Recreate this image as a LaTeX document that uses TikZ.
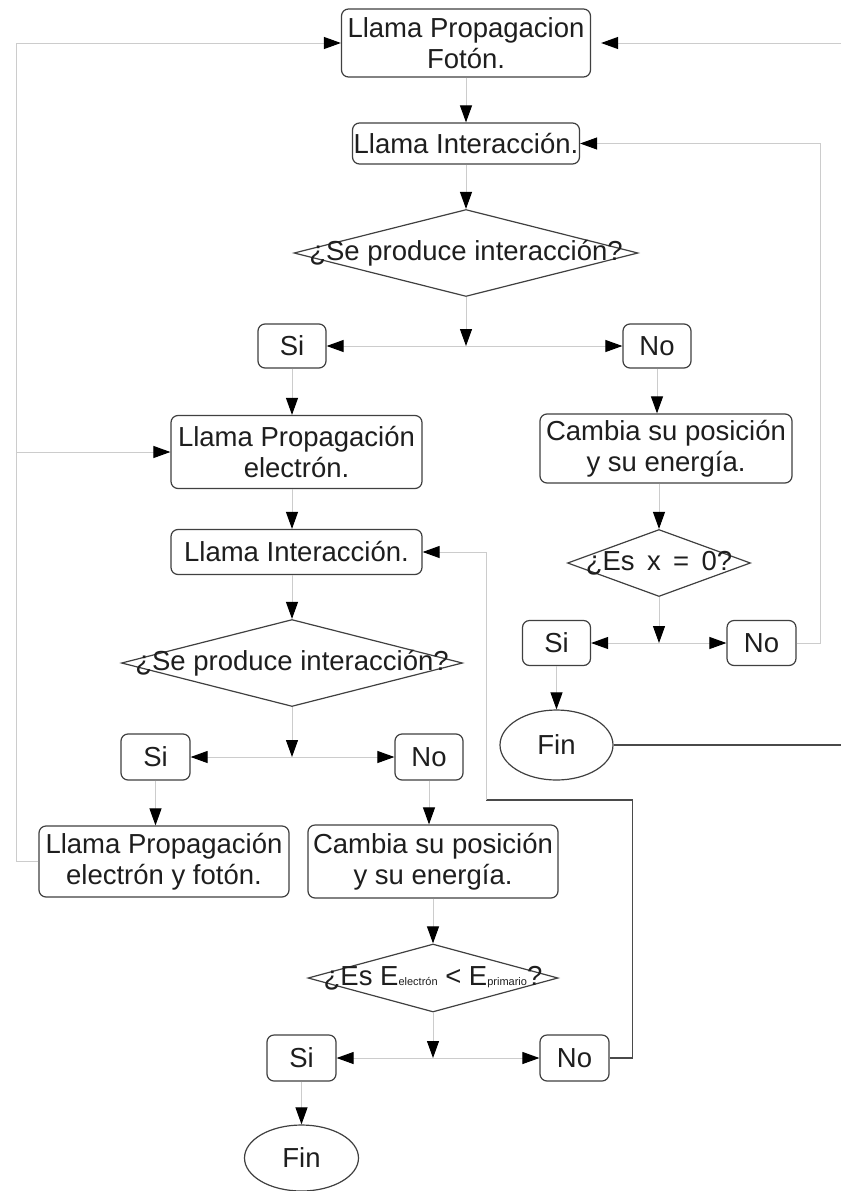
\documentclass[tikz,border=0pt]{standalone}
\usepackage{fontspec}
\setmainfont{Liberation Sans}
\usetikzlibrary{arrows.meta,shapes.geometric}
\definecolor{bord}{HTML}{404040}
\definecolor{lite}{HTML}{CCCCCC}
\definecolor{dark}{HTML}{4A4A4A}
\definecolor{txtc}{HTML}{1E1E1E}
\newcommand\myfs{\fontsize{27.5}{31}\selectfont}
\newcommand\mysub[1]{{\fontsize{11}{13}\selectfont #1}}
\begin{document}
\begin{tikzpicture}[x=1pt,y=-1pt,
  box/.style={draw=bord, line width=1.2pt, rounded corners=7pt, fill=white, inner sep=0pt, align=center, font=\myfs, text=txtc},
  dia/.style={draw=bord, line width=1.2pt, diamond, inner sep=0pt},
  ell/.style={draw=bord, line width=1.2pt, ellipse, inner sep=0pt, font=\myfs, text=txtc},
  lbl/.style={inner sep=0pt, font=\myfs, text=txtc},
  ln/.style={draw=lite, line width=1pt},
  dk/.style={draw=dark, line width=1.3pt},
  arr/.style={-{Triangle[length=17pt,width=12pt,color=black]}}]
\useasboundingbox[fill=white] (0,0) rectangle (841,1191);

% nodes
\node[box, minimum width=249pt, minimum height=68pt] (b1) at (466,43) {Llama Propagacion\\Fotón.};
\node[box, minimum width=227pt, minimum height=41pt] (b2) at (466,143.5) {Llama Interacción.};
\node[dia, minimum width=344pt, minimum height=87pt] (d1) at (466,253) {};
\node[lbl] (t1) at (d1) {¿Se produce interacción?};
\coordinate (j1) at (466,346);
\node[box, minimum width=68pt, minimum height=44pt] (si1) at (292,346) {Si};
\node[box, minimum width=68pt, minimum height=44pt] (no1) at (657,346) {No};

\node[box, minimum width=251pt, minimum height=73pt] (b3) at (296.5,452) {Llama Propagación\\electrón.};
\node[box, minimum width=252pt, minimum height=69pt] (c1) at (666,448.5) {Cambia su posición\\y su energía.};
\node[box, minimum width=251pt, minimum height=45pt] (b4) at (296.5,552) {Llama Interacción.};

\node[dia, minimum width=183pt, minimum height=67pt] (d2) at (659,563) {};
\node[lbl] (t2) at (d2) {¿Es\hspace{0.45em}x\hspace{0.45em}=\hspace{0.45em}0?};
\coordinate (j2) at (659,643);
\node[box, minimum width=68pt, minimum height=45pt] (si2) at (556.5,643) {Si};
\node[box, minimum width=69pt, minimum height=45pt] (no2) at (761.5,643) {No};
\node[ell, minimum width=113pt, minimum height=70pt] (fin1) at (556.5,745) {Fin};

\node[dia, minimum width=341pt, minimum height=87pt] (d3) at (292,663) {};
\node[lbl] (t3) at (d3) {¿Se produce interacción?};
\coordinate (j3) at (292,757);
\node[box, minimum width=69pt, minimum height=46pt] (si3) at (155.5,757) {Si};
\node[box, minimum width=68pt, minimum height=46pt] (no3) at (429,757) {No};

\node[box, minimum width=250pt, minimum height=71pt] (b5) at (164,861.5) {Llama Propagación\\electrón y fotón.};
\node[box, minimum width=250pt, minimum height=73pt] (c2) at (433,861.5) {Cambia su posición\\y su energía.};

\node[dia, minimum width=250pt, minimum height=68pt] (d4) at (433,978) {};
\node[lbl] (t4) at (d4) {¿Es E\mysub{electrón} < E\mysub{primario}?};
\coordinate (j4) at (433,1058);
\node[box, minimum width=69pt, minimum height=46pt] (si4) at (301.5,1058) {Si};
\node[box, minimum width=69pt, minimum height=46pt] (no4) at (574.5,1058) {No};
\node[ell, minimum width=114pt, minimum height=66pt] (fin2) at (301.5,1158) {Fin};

% free ends / bends
\coordinate (rtop) at (841,43);
\coordinate (rfin) at (841,745);
\coordinate (lx) at (16,452);
\coordinate (k1) at (486,800);

% main flow
\draw[ln,arr] (b1) -- (b2);
\draw[ln,arr] (b2) -- (d1.north);
\draw[ln,arr] (d1.south) -- (j1);
\draw[ln,arr] (j1) -- (si1.east);
\draw[ln,arr] (j1) -- (no1.west);

\draw[ln,arr] (si1.south) -- (si1.south |- b3.north);
\draw[ln,arr] (b3.south -| si1.south) -- (si1.south |- b4.north);
\draw[ln,arr] (b4.south -| d3.north) -- (d3.north);
\draw[ln,arr] (d3.south) -- (j3);
\draw[ln,arr] (j3) -- (si3.east);
\draw[ln,arr] (j3) -- (no3.west);
\draw[ln,arr] (si3.south) -- (si3.south |- b5.north);
\draw[ln,arr] (no3.south) -- (no3.south |- c2.north);
\draw[ln,arr] (c2.south -| d4.north) -- (d4.north);
\draw[ln,arr] (d4.south) -- (j4);
\draw[ln,arr] (j4) -- (si4.east);
\draw[ln,arr] (j4) -- (no4.west);
\draw[ln,arr] (si4.south) -- (fin2.north);

\draw[ln,arr] (no1.south) -- (no1.south |- c1.north);
\draw[ln,arr] (c1.south -| d2.north) -- (d2.north);
\draw[ln,arr] (d2.south) -- (j2);
\draw[ln,arr] (j2) -- (si2.east);
\draw[ln,arr] (j2) -- (no2.west);
\draw[ln,arr] (si2.south) -- (fin1.north);

% loops
\draw[ln,arr] (b5.west) -- (b5.west -| lx) |- (b1.west);
\draw[ln,arr] (lx) -- (b3.west);
\draw[ln,arr] (no2.east) -- ++(24,0) |- (b2.east);
\draw[ln,arr,shorten >=10pt] (rtop) -- (b1.east);
\draw[dk] (fin1.east) -- (rfin);
\draw[dk] (no4.east) -- ++(23,0) |- (k1);
\draw[ln,arr] (k1) |- (b4.east);
\end{tikzpicture}
\end{document}
